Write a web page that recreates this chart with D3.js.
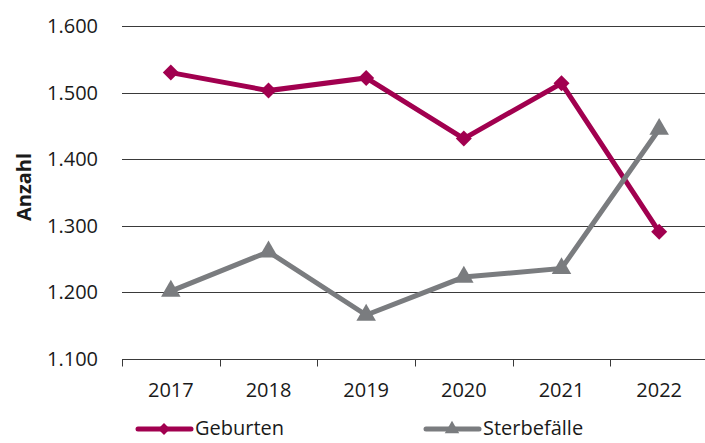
<!DOCTYPE html>
<html lang="de">
<head>
<meta charset="UTF-8">
<title>Geburten und Sterbefälle</title>
<script src="https://d3js.org/d3.v7.min.js"></script>
<style>
  body { margin: 0; background: #fff; font-family: "Open Sans", "Noto Sans", sans-serif; }
  svg { display: block; }
</style>
</head>
<body>
<div id="chart"></div>
<script>
const years = ["2017", "2018", "2019", "2020", "2021", "2022"];
const geburten = [1530, 1503, 1522, 1431, 1514, 1291];
const sterbefaelle = [1202, 1261, 1166, 1223, 1236, 1445];
const yTicks = [1100, 1200, 1300, 1400, 1500, 1600];

const width = 705, height = 443;
const margin = { top: 26, right: -3, bottom: 84, left: 122 };
const fontSize = "20px";

const svg = d3.select("#chart").append("svg")
    .attr("width", width)
    .attr("height", height);

const x = d3.scaleBand()
    .domain(years)
    .range([margin.left, width - margin.right]);

const y = d3.scaleLinear()
    .domain([1100, 1600])
    .range([height - margin.bottom, margin.top]);

const fmt = d => d3.format(",")(d).replace(",", ".");

// gridlines
svg.append("g")
    .selectAll("line")
    .data(yTicks.slice(1))
    .enter().append("line")
    .attr("x1", margin.left)
    .attr("x2", width - margin.right)
    .attr("y1", d => Math.round(y(d)) + 0.5)
    .attr("y2", d => Math.round(y(d)) + 0.5)
    .attr("stroke", "#3a3a3a")
    .attr("stroke-width", 1);

// y tick labels
svg.append("g")
    .selectAll("text")
    .data(yTicks)
    .enter().append("text")
    .attr("x", 98)
    .attr("y", d => y(d))
    .attr("dy", "0.35em")
    .attr("text-anchor", "end")
    .style("font-size", fontSize)
    .attr("fill", "#1a1a1a")
    .text(fmt);

// x axis
const xAxis = svg.append("g")
    .attr("transform", `translate(0,${Math.round(y(1100)) + 0.5})`);
xAxis.append("line")
    .attr("x1", margin.left)
    .attr("x2", width - margin.right)
    .attr("stroke", "#3a3a3a");
xAxis.selectAll(".tick")
    .data(years)
    .enter().append("line")
    .attr("x1", d => Math.round(x(d)) + 0.5)
    .attr("x2", d => Math.round(x(d)) + 0.5)
    .attr("y1", 0)
    .attr("y2", 7)
    .attr("stroke", "#3a3a3a");
xAxis.selectAll("text")
    .data(years)
    .enter().append("text")
    .attr("x", d => x(d) + x.bandwidth() / 2)
    .attr("y", 30)
    .attr("dy", "0.35em")
    .attr("text-anchor", "middle")
    .style("font-size", fontSize)
    .attr("fill", "#1a1a1a")
    .text(d => d);

// y axis title
svg.append("text")
    .attr("transform", "translate(24,187) rotate(-90)")
    .attr("text-anchor", "middle")
    .attr("dy", "0.35em")
    .style("font-size", "20px")
    .style("font-weight", "bold")
    .attr("fill", "#1a1a1a")
    .text("Anzahl");

const series = [
    { name: "Geburten", values: geburten, color: "#a1004f", symbol: d3.symbolSquare, size: 128, rotate: 45 },
    { name: "Sterbefälle", values: sterbefaelle, color: "#7a7c7f", symbol: d3.symbolTriangle, size: 165, rotate: 0 }
];

const line = d3.line()
    .x((d, i) => x(years[i]) + x.bandwidth() / 2)
    .y(d => y(d));

series.forEach(s => {
    const g = svg.append("g");
    g.append("path")
        .datum(s.values)
        .attr("d", line)
        .attr("fill", "none")
        .attr("stroke", s.color)
        .attr("stroke-width", 5)
        .attr("stroke-linejoin", "miter");
    g.selectAll("path.m")
        .data(s.values)
        .enter().append("path")
        .attr("class", "m")
        .attr("d", d3.symbol().type(s.symbol).size(s.size))
        .attr("transform", (d, i) => `translate(${x(years[i]) + x.bandwidth() / 2},${y(d)}) rotate(${s.rotate})`)
        .attr("fill", s.color);
});

// legend
const legendY = 429;
const legendItems = [
    { s: series[0], x0: 138 },
    { s: series[1], x0: 426 }
];
legendItems.forEach(({ s, x0 }) => {
    const g = svg.append("g");
    g.append("line")
        .attr("x1", x0).attr("x2", x0 + 53)
        .attr("y1", legendY).attr("y2", legendY)
        .attr("stroke", s.color)
        .attr("stroke-width", 5)
        .attr("stroke-linecap", "round");
    g.append("path")
        .attr("d", d3.symbol().type(s.symbol).size(s.size * 0.55))
        .attr("transform", `translate(${x0 + 26},${legendY}) rotate(${s.rotate})`)
        .attr("fill", s.color);
    g.append("text")
        .attr("x", x0 + 57)
        .attr("y", legendY)
        .attr("dy", "0.3em")
        .style("font-size", fontSize)
        .attr("fill", "#1a1a1a")
        .text(s.name);
});
</script>
</body>
</html>
